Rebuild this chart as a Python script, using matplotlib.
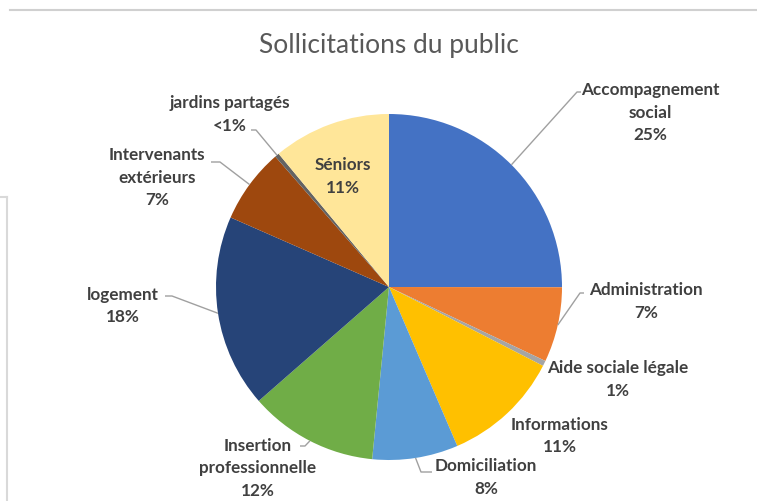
import matplotlib
matplotlib.use("Agg")
import matplotlib.pyplot as plt
import numpy as np

# ---- data ----
categories = ["Accompagnement social", "Administration", "Aide sociale légale",
              "Informations", "Domiciliation", "Insertion professionnelle",
              "logement", "Intervenants extérieurs", "jardins partagés", "Séniors"]
values = [25, 7, 0.5, 11, 8, 12, 18, 7, 0.4, 11]
pct_labels = ["25%", "7%", "1%", "11%", "8%", "12%", "18%", "7%", "<1%", "11%"]
display_names = ["Accompagnement\nsocial", "Administration", "Aide sociale légale",
                 "Informations", "Domiciliation", "Insertion\nprofessionnelle",
                 "logement", "Intervenants\nextérieurs", "jardins partagés", "Séniors"]
colors = ["#4472C4", "#ED7D31", "#A5A5A5", "#FFC000", "#5B9BD5", "#70AD47",
          "#264478", "#9E480E", "#636363", "#FFE699"]

# ---- layout (pixel coordinates, y measured from top) ----
W, H = 757, 501
cx, cy, R = 389, 287, 173
# label center (x, y-of-first-line), leader elbow and end (None = no leader)
label_pos = {
    0: ((650, 90), (577, 92), (581, 92)),
    1: ((646, 290), (580, 293), (584, 293)),
    2: ((618, 368), None, None),
    3: ((560, 425), None, None),
    4: ((486, 466), (421, 472), (432, 472)),
    5: ((258, 446), (305, 446), (300, 446)),
    6: ((123, 295), (172, 296), (165, 296)),
    7: ((157, 155), (220, 162), (211, 162)),
    8: ((230, 103), (256, 130), (251, 130)),
    9: ((343, 165), None, None),
}
line_h = 22.5

fig = plt.figure(figsize=(W / 100, H / 100), dpi=100)
ax = fig.add_axes([0, 0, 1, 1])

def Y(y):
    return H - y

wedges, _ = ax.pie(values, colors=colors, startangle=90, counterclock=False,
                   center=(cx, Y(cy)), radius=R, frame=True,
                   wedgeprops=dict(linewidth=0))
ax.set_xlim(0, W)
ax.set_ylim(0, H)
ax.set_aspect("equal")
ax.axis("off")

label_color = "#404040"
lead_color = "#A0A0A0"
font = "Lato"

for i, w in enumerate(wedges):
    (lx, ly), elbow, end = label_pos[i]
    lines = display_names[i].split("\n") + [pct_labels[i]]
    for k, t in enumerate(lines):
        ax.text(lx, Y(ly + k * line_h), t, ha="center", va="center",
                fontsize=12.3, fontweight="bold", color=label_color, family=font)
    if elbow is not None:
        mid = np.deg2rad((w.theta1 + w.theta2) / 2)
        rx = cx + R * np.cos(mid)
        ry = Y(cy) + R * np.sin(mid)
        ax.plot([rx, elbow[0], end[0]], [ry, Y(elbow[1]), Y(end[1])],
                color=lead_color, lw=1, solid_capstyle="butt")

ax.text(389, Y(45), "Sollicitations du public", ha="center", va="center",
        fontsize=19, color="#595959", family=font)

# screenshot frame lines
ax.plot([10, W], [Y(10), Y(10)], color="#D0D0D0", lw=1.5)
ax.plot([7, 7], [Y(197), 0], color="#D9D9D9", lw=1.5)
ax.plot([0, 7], [Y(197), Y(197)], color="#D9D9D9", lw=1.5)

fig.savefig("out.png", dpi=100)
